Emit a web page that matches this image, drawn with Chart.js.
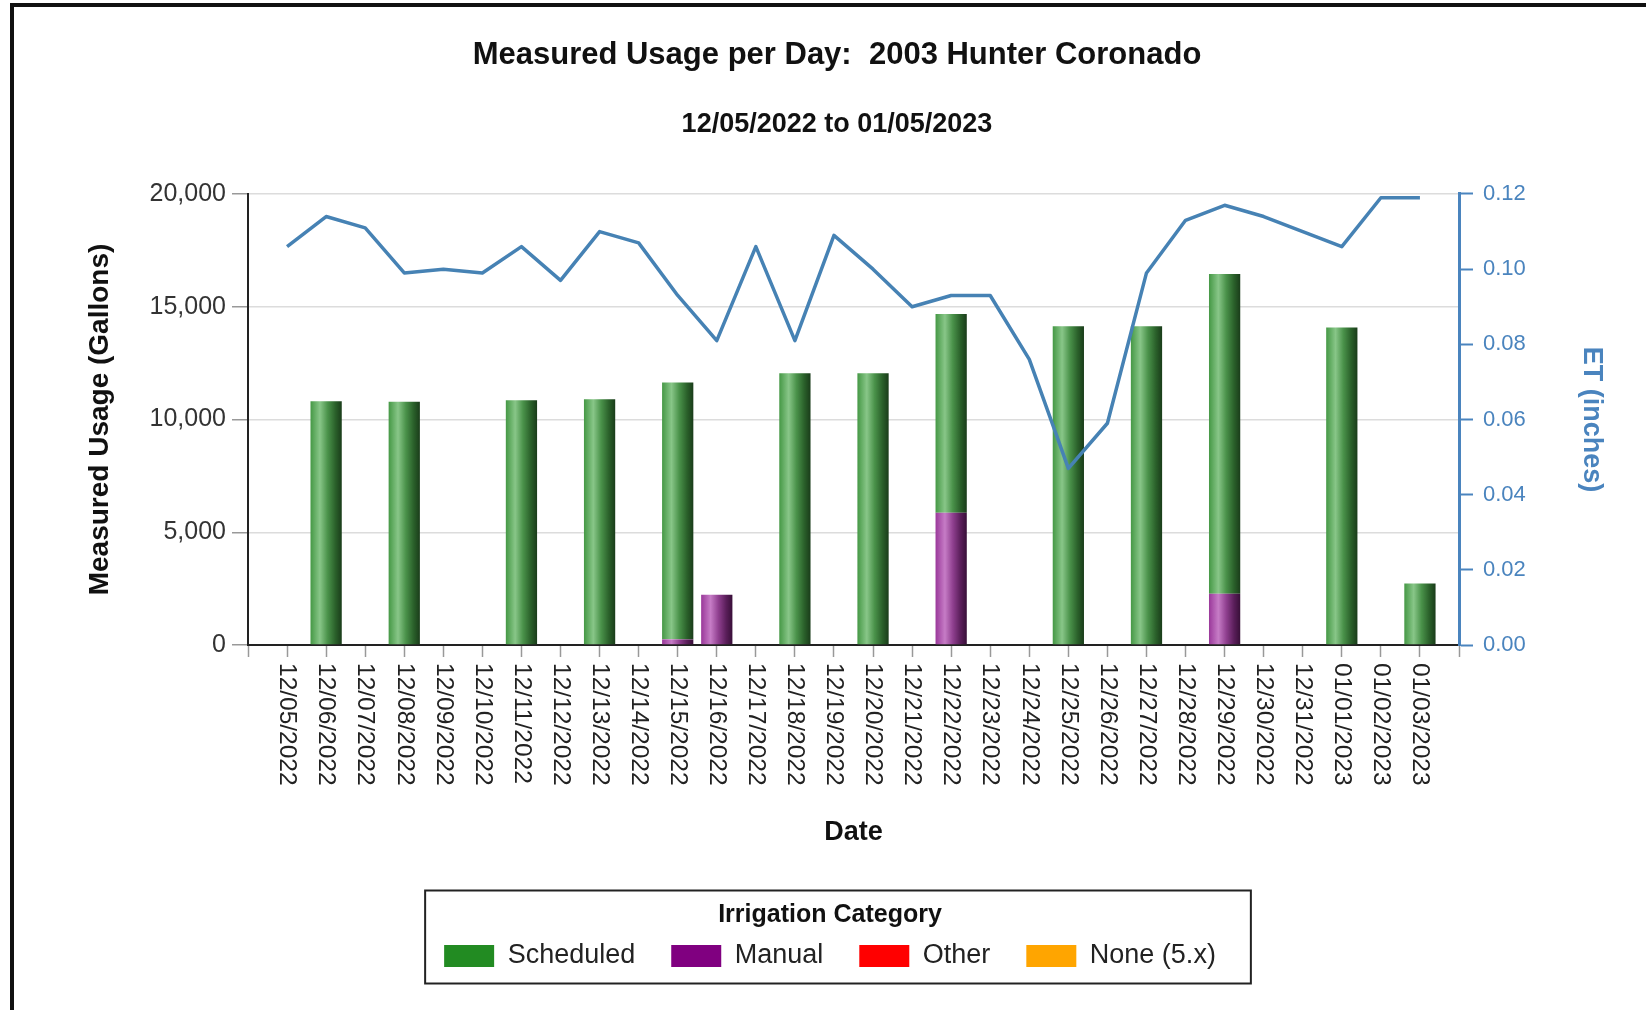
<!DOCTYPE html>
<html>
<head>
<meta charset="utf-8">
<title>Measured Usage per Day</title>
<script src="https://cdn.jsdelivr.net/npm/chart.js@4.4.0/dist/chart.umd.min.js"></script>
<style>
  html, body { margin: 0; padding: 0; background: #fff; }
  #frame {
    position: absolute; left: 10px; top: 3px;
    width: 1632px; height: 1003px;
    border-top: 4px solid #111; border-left: 4px solid #111;
  }
  #usage-chart { position: absolute; left: 0; top: 0; }
</style>
</head>
<body>
<div id="frame"><canvas id="usage-chart" width="1632" height="1003"></canvas></div>
<script>
var dates = [
  '12/05/2022', '12/06/2022', '12/07/2022', '12/08/2022', '12/09/2022', '12/10/2022',
  '12/11/2022', '12/12/2022', '12/13/2022', '12/14/2022', '12/15/2022', '12/16/2022',
  '12/17/2022', '12/18/2022', '12/19/2022', '12/20/2022', '12/21/2022', '12/22/2022',
  '12/23/2022', '12/24/2022', '12/25/2022', '12/26/2022', '12/27/2022', '12/28/2022',
  '12/29/2022', '12/30/2022', '12/31/2022', '01/01/2023', '01/02/2023', '01/03/2023'
];
// gallons per day
var scheduled = [0, 10810, 0, 10790, 0, 0, 10850, 0, 10900, 0, 11390, 0, 0, 12050, 0,
  12050, 0, 8820, 0, 0, 14130, 0, 14130, 0, 14180, 0, 0, 14080, 0, 2730];
var manual = [0, 0, 0, 0, 0, 0, 0, 0, 0, 0, 250, 2230, 0, 0, 0,
  0, 0, 5860, 0, 0, 0, 0, 0, 0, 2270, 0, 0, 0, 0, 0];
var other = [];
var noneCat = [];
// ET in inches
var et = [0.106, 0.114, 0.111, 0.099, 0.100, 0.099, 0.106, 0.097, 0.110, 0.107, 0.093, 0.081,
  0.106, 0.081, 0.109, 0.100, 0.090, 0.093, 0.093, 0.076, 0.047, 0.059, 0.099, 0.113,
  0.117, 0.114, 0.110, 0.106, 0.119, 0.119];

// empty slot at each end of the date axis, like the original
var axisLabels = [''].concat(dates, ['']);
function pad(values) {
  return [null].concat(values, [null]);
}

var FONT = '"Liberation Sans", Arial, Helvetica, sans-serif';
var ET_BLUE = '#4682b4';
var AXIS_BLUE = '#4a84be';

Chart.defaults.font.family = FONT;

// shaded "cylinder" look for the bars
function cylinder(flat, stops) {
  return function(context) {
    var chart = context.chart;
    if (context.type !== 'data' || !chart.chartArea) return flat;
    var xScale = chart.scales.x;
    var center = xScale.getPixelForValue(context.dataIndex);
    var half = (xScale.getPixelForValue(1) - xScale.getPixelForValue(0)) * 0.4;
    var g = chart.ctx.createLinearGradient(center - half, 0, center + half, 0);
    stops.forEach(function(s) { g.addColorStop(s[0], s[1]); });
    return g;
  };
}
var greenStops = [[0, '#459845'], [0.3, '#88c688'], [0.55, '#4a924a'], [0.8, '#2a602a'], [1, '#1a3c1a']];
var purpleStops = [[0, '#9a389a'], [0.3, '#c67cc6'], [0.55, '#904090'], [0.8, '#5a1e5a'], [1, '#380f38']];

var dateLabelsPlugin = {
  id: 'dateLabels',
  afterDraw: function(chart) {
    var ctx = chart.ctx;
    var xScale = chart.scales.x;
    ctx.save();
    ctx.font = '24.5px ' + FONT;
    ctx.fillStyle = '#222';
    ctx.textAlign = 'left';
    ctx.textBaseline = 'middle';
    axisLabels.forEach(function(label, i) {
      if (!label) return;
      ctx.save();
      ctx.translate(xScale.getPixelForValue(i), chart.chartArea.bottom + 18);
      ctx.rotate(Math.PI / 2);
      ctx.fillText(label, 0, 0);
      ctx.restore();
    });
    ctx.restore();
  }
};

// the legend block sits a little left of centre in the original
var legendShiftPlugin = {
  id: 'legendShift',
  afterLayout: function(chart) {
    chart.legend.left -= 7;
    chart.legend.right -= 7;
  }
};

var legendFramePlugin = {
  id: 'legendFrame',
  afterDraw: function(chart) {
    var legend = chart.legend;
    var boxes = legend.legendHitBoxes;
    if (!boxes || !boxes.length) return;
    var left = Math.min.apply(null, boxes.map(function(b) { return b.left; })) - 19;
    var right = Math.max.apply(null, boxes.map(function(b) { return b.left + b.width; })) + 35;
    var bottom = Math.max.apply(null, boxes.map(function(b) { return b.top + b.height; })) + 14;
    var ctx = chart.ctx;
    ctx.save();
    ctx.strokeStyle = '#222';
    ctx.lineWidth = 2;
    ctx.strokeRect(left, legend.top, right - left, bottom - legend.top);
    ctx.restore();
  }
};

new Chart(document.getElementById('usage-chart'), {
  type: 'bar',
  data: {
    labels: axisLabels,
    datasets: [
      { label: 'Scheduled', data: pad(scheduled), legendColor: '#228b22', backgroundColor: cylinder('#228b22', greenStops), borderWidth: 0, order: 2 },
      { label: 'Manual', data: pad(manual), legendColor: '#800080', backgroundColor: cylinder('#800080', purpleStops), borderWidth: 0, order: 1 },
      { label: 'Other', data: other, legendColor: '#ff0000', backgroundColor: '#ff0000', borderWidth: 0, order: 3 },
      { label: 'None (5.x)', data: noneCat, legendColor: '#ffa500', backgroundColor: '#ffa500', borderWidth: 0, order: 4 },
      {
        type: 'line', label: 'ET', data: pad(et), yAxisID: 'y1',
        borderColor: ET_BLUE, borderWidth: 3.5, pointRadius: 0, tension: 0,
        borderJoinStyle: 'round', order: 0
      }
    ]
  },
  options: {
    responsive: false,
    animation: false,
    layout: { padding: { left: 14, right: 0, top: 0, bottom: 30.5 } },
    datasets: { bar: { barPercentage: 0.8, categoryPercentage: 1.0 } },
    plugins: {
      title: {
        display: true,
        text: 'Measured Usage per Day:  2003 Hunter Coronado',
        color: '#111',
        font: { size: 31, weight: 'bold' },
        padding: { top: 30, bottom: 20 }
      },
      subtitle: {
        display: true,
        text: '12/05/2022 to 01/05/2023',
        color: '#111',
        font: { size: 27, weight: 'bold' },
        padding: { top: 14.6, bottom: 52.8 }
      },
      legend: {
        position: 'bottom',
        labels: {
          boxWidth: 50,
          boxHeight: 22,
          padding: 36,
          color: '#222',
          font: { size: 27 },
          filter: function(item) { return item.text !== 'ET'; },
          sort: function(a, b) { return a.datasetIndex - b.datasetIndex; },
          generateLabels: function(chart) {
            var items = Chart.defaults.plugins.legend.labels.generateLabels(chart);
            items.forEach(function(item) {
              var ds = chart.data.datasets[item.datasetIndex];
              if (ds.legendColor) item.fillStyle = ds.legendColor;
            });
            return items;
          }
        },
        title: {
          display: true,
          text: 'Irrigation Category',
          color: '#111',
          font: { size: 25, weight: 'bold' },
          padding: { top: 12, bottom: -26 }
        }
      },
      tooltip: { enabled: false }
    },
    scales: {
      x: {
        stacked: true,
        offset: false,
        grid: { offset: false, drawOnChartArea: false, tickLength: 12, tickColor: '#999', tickWidth: 1.5 },
        border: { color: '#222', width: 2 },
        ticks: { display: false },
        title: {
          display: true, text: 'Date', color: '#111',
          font: { size: 27, weight: 'bold' },
          padding: { top: 0, bottom: 41.3 }
        },
        afterFit: function(scale) { scale.height = 245.5; }
      },
      y: {
        position: 'left',
        stacked: true,
        min: 0,
        max: 20000,
        ticks: {
          stepSize: 5000,
          padding: 6,
          color: '#333',
          font: { size: 25 },
          callback: function(v) { return v.toLocaleString('en-US'); }
        },
        grid: { color: '#dcdcdc', lineWidth: 1.5, tickColor: '#999', tickLength: 16 },
        border: { color: '#222', width: 2 },
        title: {
          display: true, text: 'Measured Usage (Gallons)', color: '#111',
          font: { size: 28, weight: 'bold' },
          padding: { top: 55, bottom: 0 }
        },
        afterFit: function(scale) { scale.width = 220; }
      },
      y1: {
        position: 'right',
        min: 0,
        max: 0.12,
        ticks: {
          stepSize: 0.02,
          padding: 10,
          color: AXIS_BLUE,
          font: { size: 22 },
          callback: function(v) { return v.toFixed(2); }
        },
        grid: { drawOnChartArea: false, tickColor: AXIS_BLUE, tickLength: 14, tickWidth: 2 },
        border: { color: AXIS_BLUE, width: 3 },
        title: {
          display: true, text: 'ET (inches)', color: AXIS_BLUE,
          font: { size: 27, weight: 'bold' },
          padding: { top: 38, bottom: 0 }
        },
        afterFit: function(scale) { scale.width = 187; }
      }
    }
  },
  plugins: [dateLabelsPlugin, legendShiftPlugin, legendFramePlugin]
});
</script>
</body>
</html>
